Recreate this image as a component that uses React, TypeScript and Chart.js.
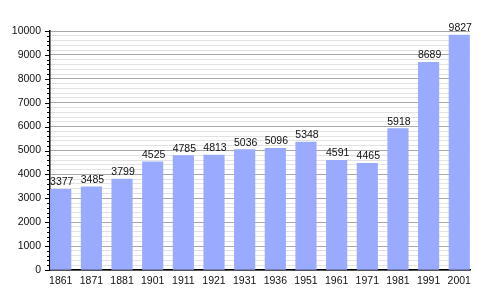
import React, { useEffect, useRef } from "react";
import { Chart, registerables } from "chart.js";

Chart.register(...registerables);

const years = ["1861", "1871", "1881", "1901", "1911", "1921", "1931", "1936", "1951", "1961", "1971", "1981", "1991", "2001"];
const population = [3377, 3485, 3799, 4525, 4785, 4813, 5036, 5096, 5348, 4591, 4465, 5918, 8689, 9827];
const yMax = 10000;
const majorStep = 1000;
const minorStep = 200;

const valueLabels = {
  id: "valueLabels",
  afterDatasetsDraw(chart: any) {
    const ctx = chart.ctx;
    const meta = chart.getDatasetMeta(0);
    ctx.save();
    ctx.font = "10.5px 'Liberation Sans', Arial, sans-serif";
    ctx.fillStyle = "#111";
    ctx.textAlign = "center";
    ctx.textBaseline = "alphabetic";
    meta.data.forEach((bar: any, i: number) => {
      ctx.fillText(String(population[i]), bar.x + 1, bar.y - 4);
    });
    ctx.restore();
  },
};

const yTickMarks = {
  id: "yTickMarks",
  afterDraw(chart: any) {
    const ctx = chart.ctx;
    const y = chart.scales.y;
    const left = chart.chartArea.left;
    ctx.save();
    ctx.strokeStyle = "#000";
    ctx.lineWidth = 1;
    for (let v = 0; v <= yMax; v += minorStep) {
      const py = Math.round(y.getPixelForValue(v)) + 0.5;
      const len = v % majorStep === 0 ? 5 : 3;
      ctx.beginPath();
      ctx.moveTo(left - len, py);
      ctx.lineTo(left, py);
      ctx.stroke();
    }
    ctx.restore();
  },
};

export default function App() {
  const ref = useRef<HTMLCanvasElement>(null);
  useEffect(() => {
    if (!ref.current) return;
    Chart.defaults.font.family = "'Liberation Sans', Arial, sans-serif";
    Chart.defaults.font.size = 10.5;
    Chart.defaults.color = "#222";
    const chart = new Chart(ref.current, {
      type: "bar",
      data: {
        datasets: [
          {
            data: population.map((v, i) => ({ x: i, y: v })),
            backgroundColor: "#99aaff",
            barThickness: 20.5,
          },
        ],
      },
      options: {
        animation: false,
        responsive: false,
        layout: { padding: { top: 31, right: 30, left: 0, bottom: 0 } },
        plugins: { legend: { display: false }, tooltip: { enabled: false } },
        scales: {
          x: {
            type: "linear",
            offset: false,
            min: -0.35,
            max: years.length - 1 + 0.35,
            afterBuildTicks: (s: any) => {
              s.ticks = years.map((_, i) => ({ value: i }));
            },
            afterFit: (s: any) => {
              s.height = 30;
            },
            grid: { display: false, drawTicks: false, offset: false },
            border: { display: true, color: "#000", width: 1.5 },
            ticks: {
              autoSkip: false,
              maxRotation: 0,
              padding: 5,
              color: "#111",
              callback: (v: any) => years[v] ?? "",
            },
          },
          y: {
            min: 0,
            max: yMax,
            afterBuildTicks: (s: any) => {
              const t = [];
              for (let v = 0; v <= yMax; v += minorStep) t.push({ value: v });
              s.ticks = t;
            },
            afterFit: (s: any) => {
              s.width = 50;
            },
            grid: {
              drawTicks: false,
              color: (c: any) => (c.tick && c.tick.value % majorStep === 0 ? "#a8a8a8" : "#e2e2e2"),
            },
            border: { display: true, color: "#000", width: 1.5 },
            ticks: {
              autoSkip: false,
              padding: 9,
              color: "#111",
              callback: (v: any) => (v % majorStep === 0 ? String(v) : ""),
            },
          },
        },
      },
      plugins: [valueLabels, yTickMarks],
    });
    return () => chart.destroy();
  }, []);
  return (
    <canvas
      ref={ref}
      width={500}
      height={300}
      style={{ position: "absolute", left: 0, top: 0, display: "block", background: "#fff" }}
    />
  );
}
